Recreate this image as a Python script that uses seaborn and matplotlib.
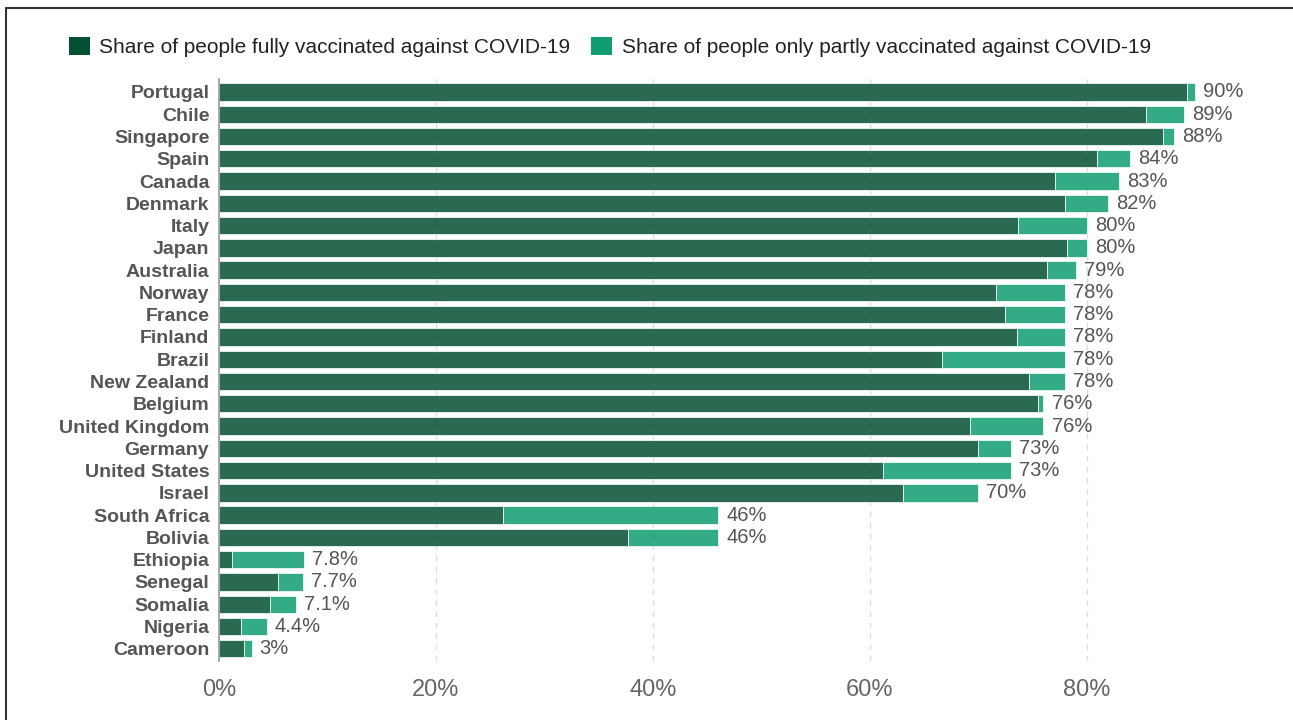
import matplotlib
matplotlib.use("Agg")
import matplotlib.pyplot as plt
from matplotlib.lines import Line2D
from matplotlib.patches import Patch
import seaborn as sns
import pandas as pd

# Datos
countries = ["Portugal", "Chile", "Singapore", "Spain", "Canada", "Denmark", "Italy",
             "Japan", "Australia", "Norway", "France", "Finland", "Brazil", "New Zealand",
             "Belgium", "United Kingdom", "Germany", "United States", "Israel",
             "South Africa", "Bolivia", "Ethiopia", "Senegal", "Somalia", "Nigeria",
             "Cameroon"]
fully = [89.2, 85.5, 87.0, 80.9, 77.1, 78.0, 73.7, 78.2, 76.3, 71.6, 72.5, 73.6, 66.7,
         74.7, 75.5, 69.2, 70.0, 61.2, 63.1, 26.2, 37.7, 1.2, 5.4, 4.7, 2.0, 2.3]
total = [90, 89, 88, 84, 83, 82, 80, 80, 79, 78, 78, 78, 78, 78, 76, 76, 73, 73, 70,
         46, 46, 7.8, 7.7, 7.1, 4.4, 3]
partly = [t - f for t, f in zip(total, fully)]
xticks = [0, 20, 40, 60, 80]

df = pd.DataFrame({"country": countries, "fully": fully, "partly": partly, "total": total})

dark = "#045033"
light = "#0f9c71"

sns.set_theme(style="white")
plt.rcParams["font.family"] = ["Liberation Sans", "DejaVu Sans"]

fig = plt.figure(figsize=(12.93, 7.2), dpi=100)
ax = fig.add_axes([219 / 1293, 1 - 661 / 720, (1282 - 219) / 1293, (661 - 78.6) / 720])

# Barras: totalmente vacunados (seaborn) + parcialmente (apiladas)
sns.barplot(data=df, y="country", x="fully", orient="h", color=dark, alpha=0.85,
            saturation=1, width=0.78, edgecolor="white", linewidth=0.6, ax=ax, zorder=2)
ax.barh(df["country"], df["partly"], left=df["fully"], color=light, alpha=0.85,
        height=0.78, edgecolor="white", linewidth=0.6, zorder=2)

# Etiquetas de valor
for i, v in enumerate(df["total"]):
    ax.text(v + 0.75, i, f"{v:g}%", va="center", ha="left", fontsize=14.5, color="#555555")

ax.set_xlim(0, 98)
ax.set_ylim(25.55, -0.6)
ax.set_xticks(xticks)
ax.set_xticklabels([f"{t}%" for t in xticks],
                   family=["Liberation Sans Narrow", "Liberation Sans", "DejaVu Sans"])
ax.set_xlabel("")
ax.set_ylabel("")
ax.tick_params(axis="x", length=0, pad=13, labelsize=17, labelcolor="#666666")
ax.tick_params(axis="y", length=0, pad=7, labelsize=14)
for lab in ax.get_yticklabels():
    lab.set_fontweight("bold")
    lab.set_color("#555555")

ax.grid(axis="x", linestyle=(0, (4, 4)), color="#dddddd", linewidth=1, zorder=0)
ax.set_axisbelow(True)
for s in ["top", "right", "bottom"]:
    ax.spines[s].set_visible(False)
ax.spines["left"].set_color("#999999")
ax.spines["left"].set_linewidth(1.2)

# Leyenda
handles = [Patch(facecolor=dark, edgecolor="none"), Patch(facecolor=light, edgecolor="none")]
fig.legend(handles, ["Share of people fully vaccinated against COVID-19",
                     "Share of people only partly vaccinated against COVID-19"],
           loc="center left", bbox_to_anchor=(0.039, 1 - 47 / 720), ncol=2, frameon=False,
           fontsize=15, handlelength=1.0, handleheight=1.0, handletextpad=0.45,
           columnspacing=1.0, labelcolor="#222222")

# Marco
fig.add_artist(Line2D([6 / 1293, 1], [1 - 8 / 720, 1 - 8 / 720], color="#333333", lw=1.5))
fig.add_artist(Line2D([6 / 1293, 6 / 1293], [0, 1 - 8 / 720], color="#333333", lw=1.5))

fig.savefig("out.png", dpi=100)
